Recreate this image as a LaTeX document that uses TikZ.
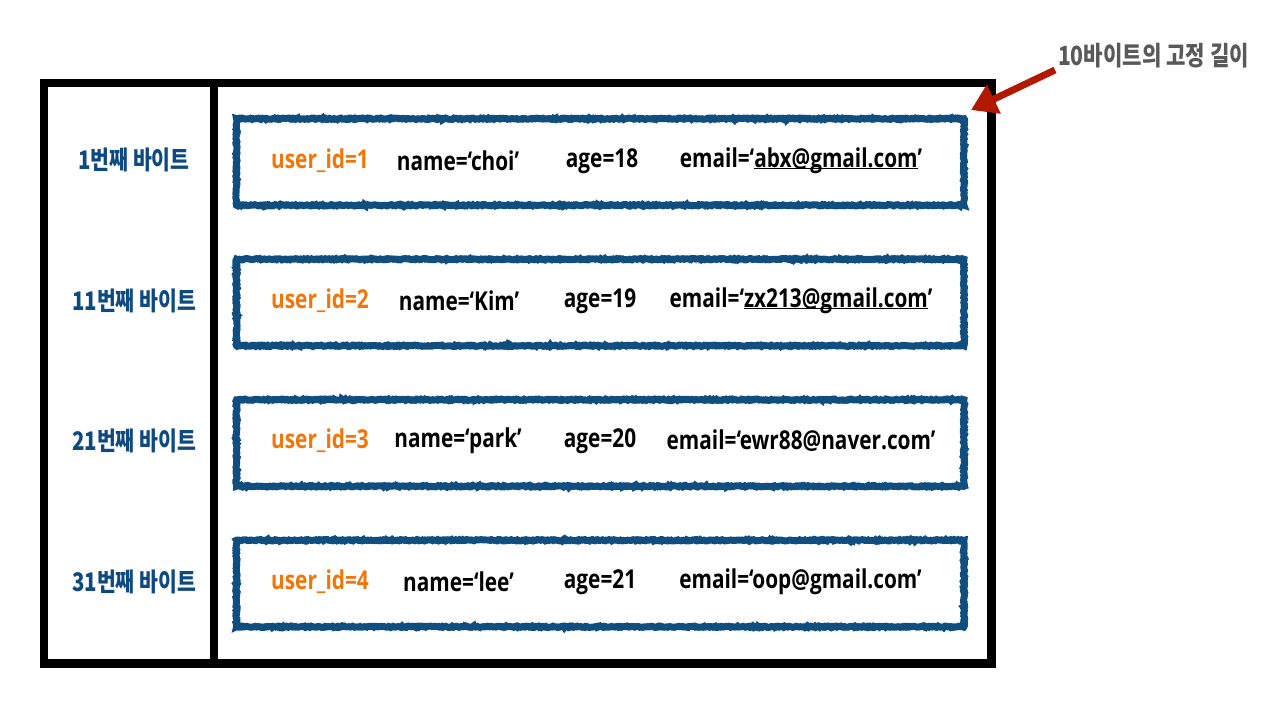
\documentclass[tikz,border=0pt]{standalone}
\usepackage{fontspec}
\usetikzlibrary{arrows.meta,decorations.pathmorphing}
\newfontfamily\krfont[FakeStretch=0.8]{Noto Sans CJK KR}
\newfontfamily\latfont[FakeStretch=0.8]{Open Sans}
\definecolor{boxblue}{RGB}{16,78,128}
\definecolor{lblblue}{RGB}{14,74,128}
\definecolor{idorange}{RGB}{240,118,10}
\definecolor{titlegray}{RGB}{89,89,89}
\definecolor{arrowred}{RGB}{178,24,0}
\newcommand\myul[1]{\setbox0\hbox{#1}\rlap{\rule[-1.1pt]{\wd0}{0.8pt}}\box0}
\tikzset{
  lbl/.style={text=lblblue, font=\krfont\bfseries\fontsize{19.2pt}{21pt}\selectfont, inner sep=0pt},
  title/.style={text=titlegray, font=\krfont\bfseries\fontsize{19.8pt}{21pt}\selectfont, inner sep=0pt},
  fld/.style={text=black, font=\latfont\bfseries\fontsize{19.5pt}{22pt}\selectfont, inner sep=0pt},
  idf/.style={fld, text=idorange},
  recbox/.style={draw=boxblue, line width=5.2pt, minimum width=545.6pt, minimum height=64.9pt,
    inner sep=0pt, decorate, decoration={random steps, segment length=1pt, amplitude=0.5pt}},
}
\begin{document}
\begin{tikzpicture}[x=0.75pt,y=-0.75pt]
\useasboundingbox (0,0) rectangle (1280,705);
% outer frame
\draw[line width=6.4pt] (44,83) rectangle (991.5,663.5);
\draw[line width=6pt] (213.5,83) -- (213.5,663.5);
% records
\foreach \i/\y in {1/162,2/302.5,3/443,4/583.5}{
  \node[recbox] (b\i) at (600.25,\y) {};
}
% left labels
\node[lbl] (l1) at (134,160) {1번째 바이트};
\node[lbl] (l2) at (134,300.5) {11번째 바이트};
\node[lbl] (l3) at (134,441) {21번째 바이트};
\node[lbl] (l4) at (134,581.5) {31번째 바이트};
% row 1
\node[idf] (r1u) at (320,161) {user\_id=1};
\node[fld] (r1n) at (458,161) {name=‘choi’};
\node[fld] (r1a) at (602,161) {age=18};
\node[fld] (r1e) at (801,161) {email=‘\myul{abx@gmail.com}’};
% row 2
\node[idf] (r2u) at (320,301) {user\_id=2};
\node[fld] (r2n) at (459,301) {name=‘Kim’};
\node[fld] (r2a) at (600,301) {age=19};
\node[fld] (r2e) at (801,301) {email=‘\myul{zx213@gmail.com}’};
% row 3
\node[idf] (r3u) at (320,441) {user\_id=3};
\node[fld] (r3n) at (458,441) {name=‘park’};
\node[fld] (r3a) at (600,441) {age=20};
\node[fld] (r3e) at (801,441) {email=‘ewr88@naver.com’};
% row 4
\node[idf] (r4u) at (320,582) {user\_id=4};
\node[fld] (r4n) at (458.5,582) {name=‘lee’};
\node[fld] (r4a) at (600,582) {age=21};
\node[fld] (r4e) at (800.5,582) {email=‘oop@gmail.com’};
% title and arrow
\node[title] (t) at (1153.5,56) {10바이트의 고정 길이};
\coordinate (atail) at (1055,70);
\coordinate (ahead) at (971,110);
\draw[arrowred, line width=5.2pt, -{Triangle[length=19pt,width=23pt]}] (atail) -- (ahead);
\end{tikzpicture}
\end{document}
